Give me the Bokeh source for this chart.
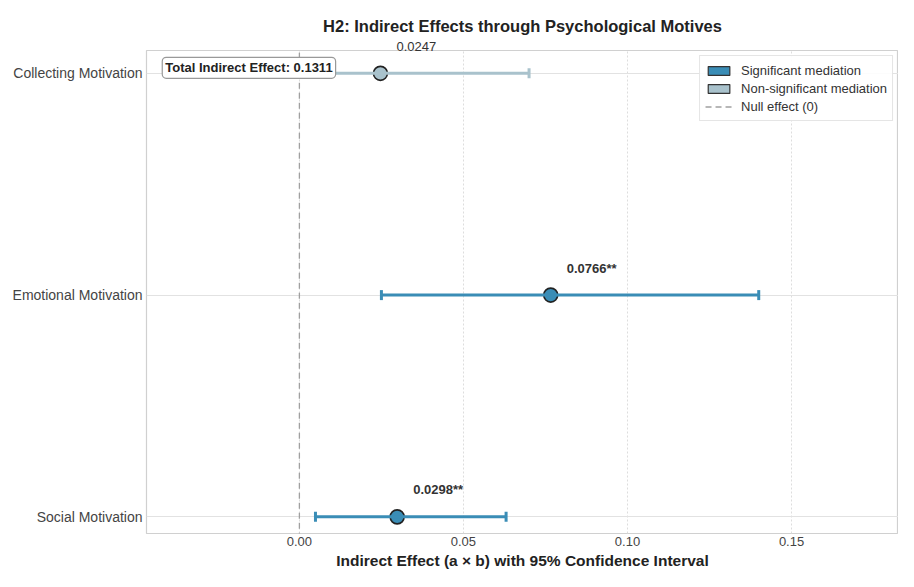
from bokeh.plotting import figure
from bokeh.models import (ColumnDataSource, Whisker, TeeHead, Label, Legend, Title,
                          LegendItem, FixedTicker, Range1d)
from bokeh.embed import file_html
from bokeh.resources import INLINE

# ---- data ----
motives = ["Social Motivation", "Emotional Motivation", "Collecting Motivation"]
effects = [0.0298, 0.0766, 0.0247]
ci_lower = [0.0049, 0.0250, -0.0160]
ci_upper = [0.0630, 0.1400, 0.0700]
significant = [True, True, False]
value_labels = ["0.0298**", "0.0766**", "0.0247"]
total_indirect = 0.1311
null_effect = 0.0
x_ticks = [0.0, 0.05, 0.10, 0.15]
x_tick_labels = ["0.00", "0.05", "0.10", "0.15"]

SIG = "#3A8DB6"
NSIG = "#A9C2CC"
FONT = "Liberation Sans"

ypos = list(range(len(motives)))
sig_idx = [i for i, s in enumerate(significant) if s]
nsig_idx = [i for i, s in enumerate(significant) if not s]


def sub(idx):
    return ColumnDataSource(dict(y=[ypos[i] for i in idx], eff=[effects[i] for i in idx],
                                 lo=[ci_lower[i] for i in idx], hi=[ci_upper[i] for i in idx]))


src_sig = sub(sig_idx)
src_nsig = sub(nsig_idx)

X0, X1 = -0.0466, 0.1826
Y0, Y1 = -0.075, 2.103
FL, FT = 146, 50
W, H = 898, 571

p = figure(width=W, height=H, output_backend="svg", toolbar_location=None,
           x_range=Range1d(X0, X1), y_range=Range1d(Y0, Y1),
           min_border_left=FL, min_border_right=0, min_border_top=FT)

p.title.text = "H2: Indirect Effects through Psychological Motives"
p.title.align = "center"
p.title.text_font = FONT
p.title.text_font_size = "16.5px"
p.title.text_font_style = "bold"
p.title.text_color = "#222222"
p.title.standoff = 10

p.outline_line_color = "#d0d0d0"
p.outline_line_width = 1.2

# axes
p.xaxis.ticker = FixedTicker(ticks=x_ticks)
p.xaxis.major_label_overrides = {t: l for t, l in zip(x_ticks, x_tick_labels)}
p.yaxis.ticker = FixedTicker(ticks=ypos)
p.yaxis.major_label_overrides = {i: m for i, m in zip(ypos, motives)}
for ax in (p.xaxis[0], p.yaxis[0]):
    ax.axis_line_color = None
    ax.major_tick_line_color = None
    ax.minor_tick_line_color = None
    ax.major_tick_out = 0
    ax.minor_tick_out = 0
    ax.major_label_text_font = FONT
    ax.major_label_text_color = "#444444"
p.xaxis.major_label_text_font_size = "13px"
p.yaxis.major_label_text_font_size = "14px"
p.xaxis.major_label_standoff = 3
p.yaxis.major_label_standoff = 4
p.xaxis.axis_label = "Indirect Effect (a \u00d7 b) with 95% Confidence Interval"
p.xaxis.axis_label_text_font = FONT
p.xaxis.axis_label_text_font_size = "15.5px"
p.xaxis.axis_label_text_font_style = "bold"
p.xaxis.axis_label_text_color = "#222222"
p.xaxis.axis_label_standoff = 3

p.xgrid.grid_line_color = "#dddddd"
p.xgrid.grid_line_dash = "2 2"
p.ygrid.grid_line_color = "#e2e2e2"
p.ygrid.grid_line_width = 1.2

# null line (vertical, spanning beyond the category extent)
null_line = p.line(x=[null_effect, null_effect], y=[min(ypos) - 1, max(ypos) + 1],
                   line_color="#a0a0a0", line_dash="6 4", line_width=1.3)

# error bars
for s, col in ((src_sig, SIG), (src_nsig, NSIG)):
    p.add_layout(Whisker(source=s, base="y", lower="lo", upper="hi", dimension="width",
                         line_color=col, line_width=3,
                         upper_head=TeeHead(size=10, line_color=col, line_width=3),
                         lower_head=TeeHead(size=10, line_color=col, line_width=3),
                         level="glyph"))

# legend patch renderers (tiny, hidden under the markers)
r_sig = p.rect(x="eff", y="y", width=2, height=2, width_units="screen", height_units="screen",
               source=src_sig, fill_color=SIG, line_color="#333333", line_width=1.2)
r_nsig = p.rect(x="eff", y="y", width=2, height=2, width_units="screen", height_units="screen",
                source=src_nsig, fill_color=NSIG, line_color="#333333", line_width=1.2)

# points
p.scatter(x="eff", y="y", source=src_sig, size=14, fill_color=SIG, line_color="#222222",
          line_width=1.6)
p.scatter(x="eff", y="y", source=src_nsig, size=14, fill_color=NSIG, line_color="#222222",
          line_width=1.6)

# value labels
for i in ypos:
    if significant[i]:
        p.add_layout(Label(x=effects[i], y=ypos[i], text=value_labels[i],
                           x_offset=16, y_offset=27, text_font=FONT, text_font_size="13px",
                           text_font_style="bold", text_color="#333333",
                           text_baseline="middle", text_align="left"))
    else:
        # this label sits above the frame's top edge (annotations in the frame are
        # clipped), so it goes into the top panel; x from the data value via the range
        fw = W - FL
        off = (effects[i] - X0) / (X1 - X0) * fw + 16
        p.add_layout(Title(text=value_labels[i], align="left", offset=off, standoff=0,
                           text_font=FONT, text_font_size="13px", text_font_style="normal",
                           text_color="#333333"), "above")

# total indirect box
p.add_layout(Label(x=-0.0418, y=max(ypos), y_offset=5.5,
                   text=f"Total Indirect Effect: {total_indirect:.4f}",
                   text_font=FONT, text_font_size="13px", text_font_style="bold",
                   text_color="#222222", text_baseline="middle", text_align="left",
                   background_fill_color="white", border_line_color="#999999",
                   border_line_width=1.2, padding=3, border_radius=4))

# legend
leg = Legend(items=[LegendItem(label="Significant mediation", renderers=[r_sig]),
                    LegendItem(label="Non-significant mediation", renderers=[r_nsig]),
                    LegendItem(label="Null effect (0)", renderers=[null_line])],
             location="top_right", margin=5, padding=5, spacing=0,
             label_text_font=FONT, label_text_font_size="13px", label_text_color="#333333",
             glyph_width=27, glyph_height=11, label_height=18, label_standoff=9,
             border_line_color="#cccccc", background_fill_alpha=0.9)
p.add_layout(leg)

open("out.html", "w").write(file_html(p, INLINE))
